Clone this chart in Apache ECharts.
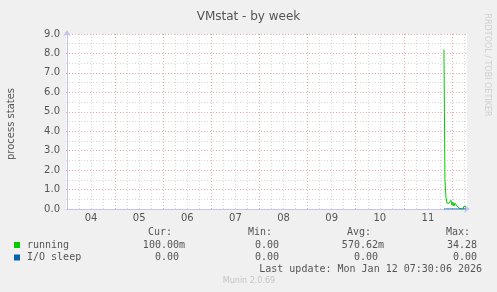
<!DOCTYPE html>
<html><head><meta charset="utf-8">
<script src="https://cdn.jsdelivr.net/npm/echarts@6/dist/echarts.min.js"></script>
<style>html,body{margin:0;padding:0;background:#f0f0f0}#c{width:497px;height:292px}</style>
</head><body><div id="c"></div>
<script>
// ---- data ----
const dayLabels = ['04','05','06','07','08','09','10','11'];
const yTickLabels = ['0.0','1.0','2.0','3.0','4.0','5.0','6.0','7.0','8.0','9.0'];
// hours since Mon Jan 4 00:00
const hours   = [188, 188.5, 189, 189.5, 190, 190.5, 191, 191.5, 192, 192.5, 193, 193.5, 194, 194.5, 195, 195.5, 196, 196.5, 197, 197.5, 198, 198.5, 199];
const running = [8.2, 1.5, 0.6, 0.3, 0.25, 0.3, 0.2, 0.45, 0.2, 0.35, 0.15, 0.3, 0.25, 0.15, 0.1, 0.05, 0, 0, 0, 0, 0.15, 0.15, 0.1];
const ioSleep = [0, 0, 0, 0, 0, 0, 0, 0, 0, 0, 0, 0, 0, 0, 0, 0, 0, 0, 0, 0, 0, 0, 0];
const seriesNames = ['running', 'I/O sleep'];
const statHeaders = ['Cur:', 'Min:', 'Avg:', 'Max:'];
const runningStats = ['100.00m', '0.00', '570.62m', '34.28'];
const ioSleepStats = ['0.00', '0.00', '0.00', '0.00'];
const titleText = 'VMstat - by week';
const yName = 'process states';
const lastUpdate = 'Last update: Mon Jan 12 07:30:06 2026';
const footer = 'Munin 2.0.69';
const sideText = 'RRDTOOL / TOBI OETIKER';

// ---- styles ----
const colors = ['#00cc00', '#0066b3'];
const TXT = '#555555';
const MONO = '"DejaVu Sans Mono", monospace';
const SANS = '"DejaVu Sans", sans-serif';
const RED = '#eeaaaa';
const GREY = '#d8d8d8';
const AXIS = '#c4c4ec';

const chart = echarts.init(document.getElementById('c'), null, {renderer: 'canvas'});

// x splitLine colours: ticks every 0.5h starting at -0.5h
const xLineColors = [];
for (let i = 0; i < 48; i++) {
  const h = (-0.5 + i * 0.5 + 48) % 24;
  if (Math.abs(h) < 1e-6) xLineColors.push(RED);
  else if (Math.abs(h % 6) < 1e-6) xLineColors.push(GREY);
  else xLineColors.push('rgba(0,0,0,0)');
}

const colRight = [172, 272, 371, 470];
const graphics = [];
statHeaders.forEach((h, i) => {
  graphics.push({type: 'text', x: colRight[i], y: 232, style: {text: h, font: '10px ' + MONO, fill: TXT, align: 'right', verticalAlign: 'middle'}});
});
[runningStats, ioSleepStats].forEach((row, r) => {
  const y = 245 + r * 12.5;
  graphics.push({type: 'rect', shape: {x: 14, y: y - 3, width: 6, height: 6}, style: {fill: colors[r]}});
  graphics.push({type: 'text', x: 27, y: y, style: {text: seriesNames[r], font: '10px ' + MONO, fill: TXT, align: 'left', verticalAlign: 'middle'}});
  row.forEach((v, i) => {
    const hasSuffix = /[a-zA-Z]$/.test(v);
    graphics.push({type: 'text', x: colRight[i] + (hasSuffix ? 13 : 7), y: y, style: {text: v, font: '10px ' + MONO, fill: TXT, align: 'right', verticalAlign: 'middle'}});
  });
});
graphics.push({type: 'text', x: 482, y: 269.5, style: {text: lastUpdate, font: '10px ' + MONO, fill: TXT, align: 'right', verticalAlign: 'middle'}});
graphics.push({type: 'text', x: 249, y: 281, style: {text: footer, font: '8px ' + SANS, fill: '#c4c4c4', align: 'center', verticalAlign: 'middle'}});
graphics.push({type: 'text', x: 487, y: 65, rotation: -Math.PI / 2, style: {text: sideText, font: '8px ' + SANS, fill: '#cfcfcf', align: 'center', verticalAlign: 'middle'}});
graphics.push({type: 'text', x: 11, y: 124, rotation: Math.PI / 2, style: {text: yName, font: '10px ' + SANS, fill: TXT, align: 'center', verticalAlign: 'middle'}});

chart.setOption({
  backgroundColor: '#f0f0f0',
  animation: false,
  title: {text: titleText, left: 'center', top: 6, textStyle: {fontFamily: SANS, fontSize: 12, fontWeight: 'normal', color: TXT}},
  grid: {left: 66, top: 34, width: 401, height: 175, show: true, backgroundColor: '#ffffff', borderWidth: 0, containLabel: false},
  xAxis: {
    type: 'value', min: -0.5, max: 199.5, interval: 0.5,
    axisLine: {show: true, lineStyle: {color: AXIS, width: 1}, symbol: ['none', 'arrow'], symbolSize: [6, 6], symbolOffset: [0, 3]},
    axisTick: {show: false},
    axisLabel: {
      margin: 4, color: TXT, fontFamily: SANS, fontSize: 10,
      formatter: function (v) {
        const r = v - 12;
        if (r >= -1e-6 && Math.abs(r / 24 - Math.round(r / 24)) < 1e-6) return dayLabels[Math.round(r / 24)] || '';
        return '';
      }
    },
    splitLine: {show: true, showMinLine: true, showMaxLine: true, lineStyle: {color: xLineColors, width: 1, type: [1, 2]}}
  },
  yAxis: {
    type: 'value', min: 0, max: 9, interval: 0.5,
    axisLine: {show: true, lineStyle: {color: AXIS, width: 1}, symbol: ['none', 'arrow'], symbolSize: [6, 6], symbolOffset: [0, 4]},
    axisTick: {show: false},
    axisLabel: {
      margin: 6, color: TXT, fontFamily: SANS, fontSize: 10,
      formatter: function (v) {
        const k = Math.round(v);
        return Math.abs(v - k) < 1e-6 ? (yTickLabels[k] || '') : '';
      }
    },
    splitLine: {show: true, showMinLine: true, showMaxLine: true, lineStyle: {color: [RED, GREY], width: 1, type: [1, 2]}}
  },
  series: [
    {name: seriesNames[0], type: 'line', data: hours.map((h, i) => [h, running[i]]), showSymbol: false, lineStyle: {color: colors[0], width: 1}, itemStyle: {color: colors[0]}},
    {name: seriesNames[1], type: 'line', data: hours.map((h, i) => [h, ioSleep[i]]), showSymbol: false, lineStyle: {color: colors[1], width: 1}, itemStyle: {color: colors[1]}}
  ],
  graphic: graphics
});
</script>
</body></html>
